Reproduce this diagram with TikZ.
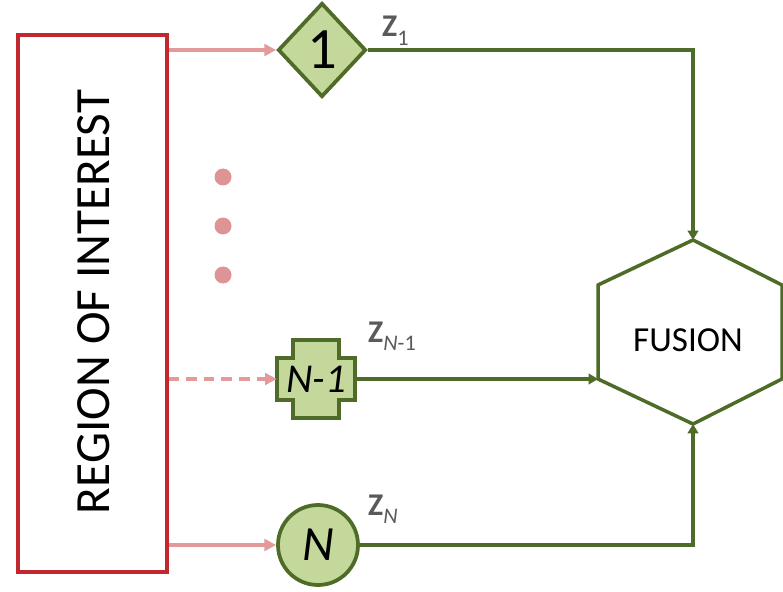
\documentclass[tikz,border=0pt]{standalone}
\usepackage{fontspec}
\setmainfont{Carlito}
\usetikzlibrary{arrows.meta,positioning,shapes.geometric}

\definecolor{roired}{HTML}{C0282D}
\definecolor{feedpink}{HTML}{E39A9A}
\definecolor{dotpink}{HTML}{DE9494}
\definecolor{leafgreen}{HTML}{C4D89C}
\definecolor{darkgreen}{HTML}{4F6B28}
\definecolor{labelgray}{HTML}{5A5A5A}

\newcommand{\zsub}[1]{Z\raisebox{-7pt}{\fontsize{19}{20}\selectfont\mdseries #1}}

\begin{document}
\begin{tikzpicture}[x=0.03cm, y=-0.03cm,
  classifier/.style={draw=darkgreen, fill=leafgreen, line width=3.2pt, inner sep=0pt},
  feed/.style={draw=feedpink, line width=2.6pt, -{Triangle[length=10pt,width=10pt]}},
  flow/.style={draw=darkgreen, line width=3pt, -{Triangle[length=8pt,width=9pt]}},
  zlabel/.style={text=labelgray, font=\bfseries\fontsize{27}{30}\selectfont, inner sep=0pt, anchor=base west}]

\useasboundingbox (0,0) rectangle (783,592);

% ---- region of interest ----------------------------------------------------
\node[draw=roired, line width=3pt, minimum width=4.47cm, minimum height=16.11cm]
  (roi) at (92.5,303.5) {};
\node[rotate=90, font=\fontsize{42}{50}\selectfont, inner sep=0pt]
  (roitext) at (93.5,302) {REGION OF INTEREST};

% ---- classifiers -----------------------------------------------------------
\node[classifier, diamond, minimum width=2.64cm, minimum height=2.82cm,
  font=\fontsize{50}{54}\selectfont] (clf1) at (322,50) {1};

\draw[classifier] (293,340) -- (339,340) -- (339,358) -- (355,358) -- (355,400)
  -- (339,400) -- (339,418) -- (293,418) -- (293,400) -- (277,400) -- (277,358)
  -- (293,358) -- cycle;
\node[inner sep=0pt, minimum size=2.34cm, font=\itshape\fontsize{35}{38}\selectfont]
  (clfm) at (316,379) {N-1};

\node[classifier, circle, minimum size=2.4cm, font=\itshape\fontsize{42}{46}\selectfont]
  (clfn) at (318,545) {N};

\foreach \y in {177,226,275}
  \fill[dotpink] (223,\y) circle (8.5);

% ---- fusion ----------------------------------------------------------------
\coordinate (fusT) at (693,240);
\coordinate (fusL) at (598,379);
\coordinate (fusB) at (693,424);
\draw[darkgreen, line width=3pt, fill=white, line join=miter]
  (fusT) -- (782,285) -- (782,379) -- (fusB) -- (fusL) -- (598,285) -- cycle;
\node[font=\fontsize{30}{34}\selectfont, inner sep=0pt] (fusion) at (688,340) {FUSION};

% ---- connectors ------------------------------------------------------------
\draw[feed] (roi.east |- clf1.west) -- (clf1.west);
\draw[feed, dash pattern=on 9pt off 6pt] (roi.east |- clfm.west) -- (clfm.west);
\draw[feed] (roi.east |- clfn.west) -- (clfn.west);

\draw[flow] (clf1.east) -| (fusT);
\draw[flow] (clfm.east) -- (fusL);
\draw[flow] (clfn.east) -| (fusB);

% ---- outputs ---------------------------------------------------------------
\node[zlabel] (z1) at (382,37) {\zsub{1}};
\node[zlabel] (zm) at (368,342) {\zsub{\itshape N\upshape-1}};
\node[zlabel] (zn) at (368,515) {\zsub{\itshape N}};

\end{tikzpicture}
\end{document}
